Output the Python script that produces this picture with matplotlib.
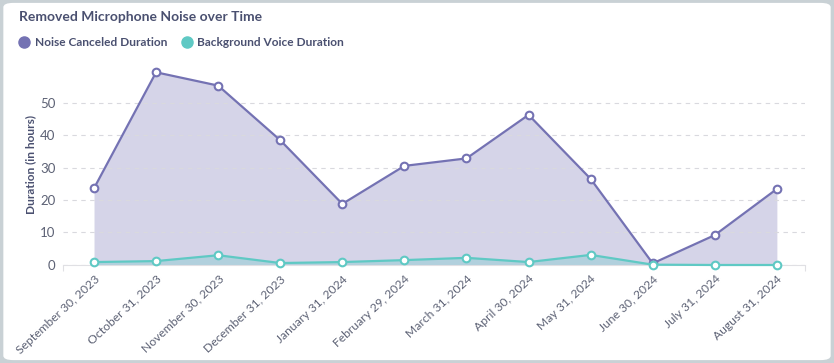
import matplotlib.pyplot as plt
from matplotlib.patches import FancyBboxPatch

plt.rcParams['font.family'] = ['Lato', 'DejaVu Sans']

# Data
months = ["September 30, 2023", "October 31, 2023", "November 30, 2023",
          "December 31, 2023", "January 31, 2024", "February 29, 2024",
          "March 31, 2024", "April 30, 2024", "May 31, 2024",
          "June 30, 2024", "July 31, 2024", "August 31, 2024"]
noise_canceled = [23.6, 59.3, 55.2, 38.4, 18.8, 30.5, 32.8, 46.2, 26.5, 0.5, 9.2, 23.4]
background_voice = [0.9, 1.2, 3.0, 0.6, 0.9, 1.5, 2.2, 0.9, 3.1, 0.1, 0.0, 0.0]

purple = "#7472b3"
teal = "#5fc9c4"
text_dark = "#4a5070"
text_grey = "#5d6275"

fig = plt.figure(figsize=(8.34, 3.63), dpi=100)
fig.patch.set_facecolor("#c9d1d5")
card = FancyBboxPatch((0.004, 0.008), 0.992, 0.984, boxstyle="round,pad=0,rounding_size=0.012",
                      transform=fig.transFigure, facecolor="white", edgecolor="none", zorder=-5)
fig.patches.append(card)

ax = fig.add_axes([0.0755, 0.27, 0.8895, 0.555])
ax.set_facecolor("none")
x = list(range(len(months)))

ax.fill_between(x, noise_canceled, color=purple, alpha=0.3, linewidth=0, zorder=1)
ax.fill_between(x, background_voice, color=teal, alpha=0.3, linewidth=0, zorder=2)
ax.plot(x, noise_canceled, color=purple, lw=1.6, marker="o", ms=5.5,
        mfc="white", mec=purple, mew=1.5, zorder=4, clip_on=False)
ax.plot(x, background_voice, color=teal, lw=1.6, marker="o", ms=5.5,
        mfc="white", mec=teal, mew=1.5, zorder=5, clip_on=False)

ax.set_xlim(-0.5, 11.45)
ax.set_ylim(0, 62)
ax.set_yticks([0, 10, 20, 30, 40, 50])
ax.grid(axis="y", color="#d9d9de", linestyle=(0, (4, 4)), linewidth=0.8, zorder=0)
ax.set_xticks(x)
ax.set_xticklabels(months, rotation=43, ha="right", rotation_mode="anchor")
ax.set_xticks([-0.5, 11.45], minor=True)
ax.tick_params(axis="x", which="major", length=0, pad=6, labelsize=8.7, labelcolor=text_grey)
ax.tick_params(axis="x", which="minor", length=4, color="#e0e0e4", width=0.8)
ax.tick_params(axis="y", length=0, pad=5.5, labelsize=9.5, labelcolor=text_grey)
for s in ["top", "right", "left"]:
    ax.spines[s].set_visible(False)
ax.spines["bottom"].set_color("#e0e0e4")
ax.spines["bottom"].set_linewidth(0.8)
ax.set_ylabel("Duration (in hours)", fontsize=8.6, fontweight="bold", color=text_dark)
ax.yaxis.set_label_coords(-0.036, 0.5)

fig.text(0.023, 0.952, "Removed Microphone Noise over Time", fontsize=10, fontweight="bold",
         color=text_dark, va="center")
fig.text(0.042, 0.884, "Noise Canceled Duration", fontsize=8.6, fontweight="bold",
         color=text_dark, va="center")
fig.text(0.236, 0.884, "Background Voice Duration", fontsize=8.6, fontweight="bold",
         color=text_dark, va="center")
fig.add_artist(plt.Line2D([0.029], [0.884], marker="o", ms=8, color=purple, transform=fig.transFigure))
fig.add_artist(plt.Line2D([0.224], [0.884], marker="o", ms=8, color=teal, transform=fig.transFigure))

fig.savefig("out.png", dpi=100, facecolor=fig.get_facecolor())
